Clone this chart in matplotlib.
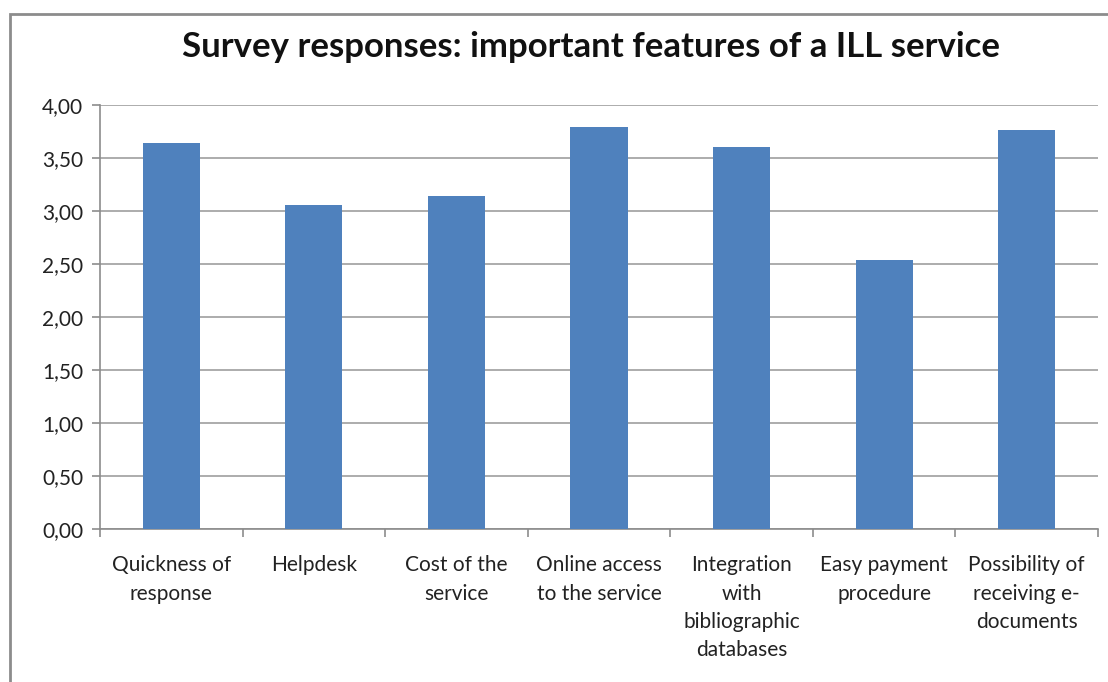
import matplotlib.pyplot as plt
from matplotlib.patches import Rectangle
from matplotlib.ticker import FuncFormatter, FixedLocator, NullFormatter
import numpy as np

features = [
    "Quickness of\nresponse",
    "Helpdesk",
    "Cost of the\nservice",
    "Online access\nto the service",
    "Integration\nwith\nbibliographic\ndatabases",
    "Easy payment\nprocedure",
    "Possibility of\nreceiving e-\ndocuments",
]
scores = [3.64, 3.05, 3.14, 3.79, 3.60, 2.54, 3.76]
y_ticks = [0.0, 0.5, 1.0, 1.5, 2.0, 2.5, 3.0, 3.5, 4.0]

plt.rcParams['font.family'] = ['Lato', 'DejaVu Sans']

W, H = 1108, 682
fig = plt.figure(figsize=(W / 100, H / 100), dpi=100)
fig.patch.set_facecolor('white')

# outer chart frame
fig.add_artist(Rectangle((10 / W, -0.05), 1.2, (H - 14) / H + 0.05,
                         transform=fig.transFigure, fill=False,
                         edgecolor='#8c8c8c', linewidth=2))

ax = fig.add_axes([100 / W, (H - 529) / H, 998 / W, (529 - 104.7) / H])

x = np.arange(len(features))
ax.bar(x, scores, width=0.4, color='#4f81bd', zorder=3)

ax.set_xlim(-0.5, len(features) - 0.5)
ax.set_ylim(0, 4)
ax.set_yticks(y_ticks)
ax.yaxis.set_major_formatter(FuncFormatter(lambda v, p: f"{v:.2f}".replace('.', ',')))
ax.grid(axis='y', color='#a6a6a6', linewidth=1.3, zorder=0)

# category labels at the centres, tick marks between categories
ax.set_xticks(x)
ax.set_xticklabels(features, fontsize=15, color='#222222', linespacing=1.52, va='top')
ax.tick_params(axis='x', length=0, pad=19)
ax.xaxis.set_minor_locator(FixedLocator(np.arange(-0.5, len(features), 1.0)))
ax.xaxis.set_minor_formatter(NullFormatter())
ax.tick_params(axis='x', which='minor', length=6, color='#8c8c8c', width=1.2)
ax.tick_params(axis='y', length=6, color='#8c8c8c', width=1.2, labelsize=15,
               labelcolor='#222222', pad=6)

for side in ['top', 'right']:
    ax.spines[side].set_visible(False)
ax.spines['left'].set_color('#8c8c8c')
ax.spines['bottom'].set_color('#8c8c8c')
ax.spines['left'].set_linewidth(1.2)
ax.spines['bottom'].set_linewidth(1.2)

fig.text(591 / W, (H - 47) / H, "Survey responses: important features of a ILL service",
         ha='center', va='center', fontsize=25, fontweight='bold', color='#111111')

fig.savefig('out.png', dpi=100, facecolor='white')
